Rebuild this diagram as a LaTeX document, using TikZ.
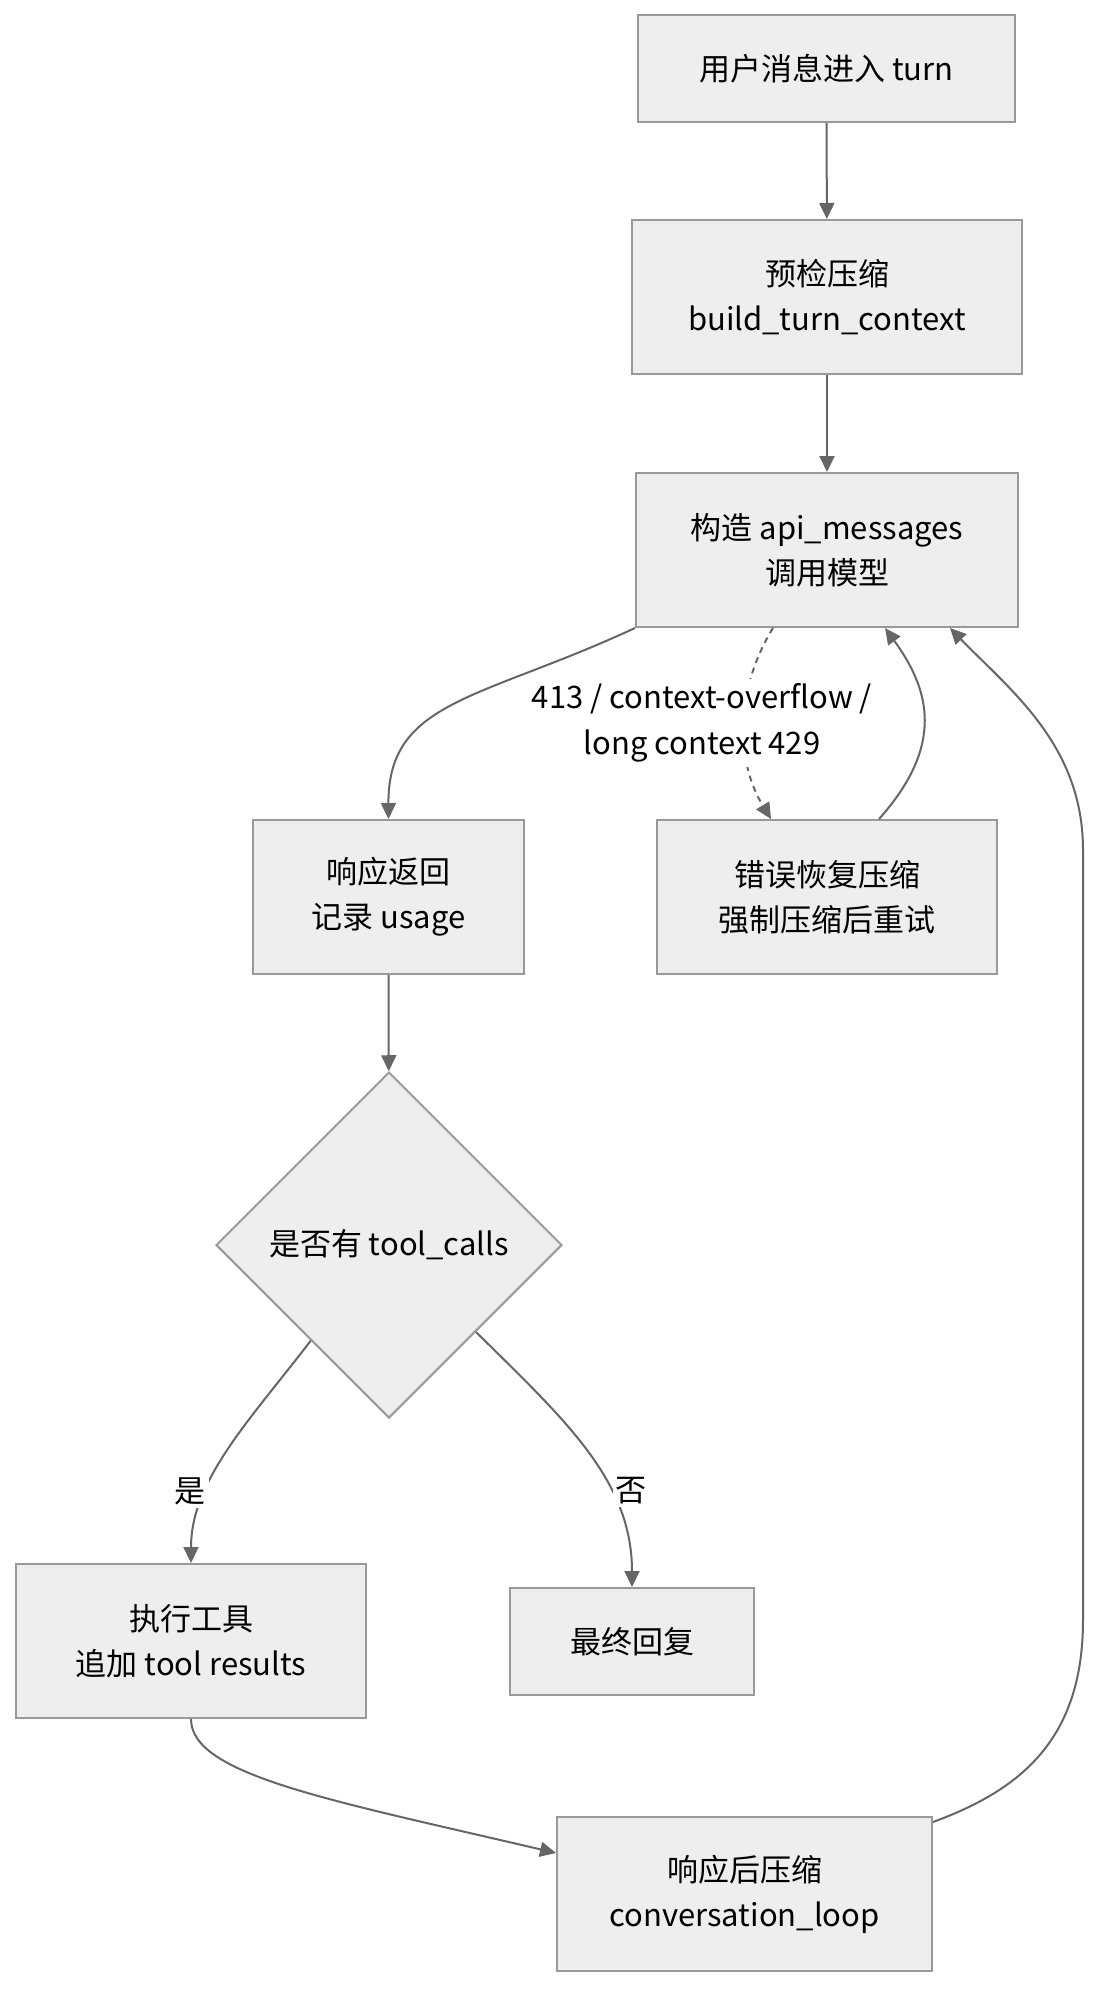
\documentclass[tikz,border=0pt]{standalone}
\usepackage{fontspec}
\setmainfont{Noto Sans CJK SC}
\usetikzlibrary{arrows.meta,shapes.geometric,calc}
\definecolor{boxfill}{HTML}{EEEEEE}
\definecolor{boxline}{HTML}{999999}
\definecolor{edgecol}{HTML}{666666}
\begin{document}
\begin{tikzpicture}[x=1pt,y=-1pt,
  box/.style={rectangle,draw=boxline,fill=boxfill,line width=2pt,inner sep=0pt,align=center,font=\fontsize{31}{45}\selectfont,text=black},
  dec/.style={diamond,draw=boxline,fill=boxfill,line width=2pt,inner sep=0pt,align=center,font=\fontsize{31}{45}\selectfont,text=black,minimum width=346pt,minimum height=346pt},
  flow/.style={draw=edgecol,line width=2pt,-{Triangle[length=16pt,width=15pt]}},
  dashflow/.style={flow,dash pattern=on 6pt off 5pt},
  lbl/.style={fill=white,inner sep=5pt,align=center,font=\fontsize{31}{46}\selectfont,text=black}
]
\useasboundingbox (0,0) rectangle (1116,2016);

\node[box,minimum width=377pt,minimum height=107pt] (n1) at (826.5,68.5) {用户消息进入 turn};
\node[box,minimum width=390pt,minimum height=154pt] (n2) at (827,297) {预检压缩\\build\_turn\_context};
\node[box,minimum width=382pt,minimum height=154pt] (n3) at (827,550) {构造 api\_messages\\调用模型};
\node[box,minimum width=271pt,minimum height=154pt] (n4) at (388.5,897) {响应返回\\记录 usage};
\node[box,minimum width=340pt,minimum height=154pt] (n5) at (827,897) {错误恢复压缩\\强制压缩后重试};
\node[dec] (d) at (389,1245) {是否有 tool\_calls};
\node[box,minimum width=350pt,minimum height=154pt] (n7) at (191,1641) {执行工具\\追加 tool results};
\node[box,minimum width=244pt,minimum height=107pt] (n8) at (632,1641.5) {最终回复};
\node[box,minimum width=375pt,minimum height=154pt] (n9) at (744.5,1894) {响应后压缩\\conversation\_loop};

\draw[flow] (n1) -- (n2);
\draw[flow] (n2) -- (n3);
\draw[flow] (n3.south west) .. controls (480,700) and (388,700) .. (n4.north);
\draw[dashflow] ($(n3.south)+(-54,0)$) .. controls (735,690) and (735,760) .. ($(n5.north)+(-56,0)$);
\draw[flow] ($(n5.north)+(52,0)$) .. controls (945,745) and (930,690) .. ($(n3.south)+(58,0)$);
\draw[flow] (n4) -- (d);
\draw[flow] ($(d.west)!0.55!(d.south)$) .. controls (250,1420) and (191,1480) .. (n7.north);
\draw[flow] ($(d.east)!0.5!(d.south)$) .. controls (565,1420) and (632,1480) .. (n8.north);
\draw[flow] (n7.south) .. controls (191,1775) and (330,1800) .. ($(n9.west)+(0,-41)$);
\draw[flow] ($(n9.north east)+(0,6)$) .. controls (1020,1790) and (1083,1740) .. (1083,1620) -- (1083,850) .. controls (1083,745) and (1010,690) .. ($(n3.south)+(123,0)$);

\node[lbl] (l1) at (702,723) {413 / context-overflow /\\long context 429};
\node[lbl,inner sep=3pt] (l2) at (190,1491) {是};
\node[lbl,inner sep=3pt] (l3) at (631,1491) {否};
\end{tikzpicture}
\end{document}
